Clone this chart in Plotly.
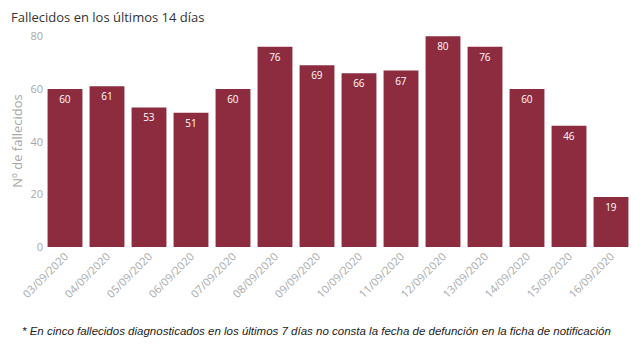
import plotly.graph_objects as go

dates = ["03/09/2020", "04/09/2020", "05/09/2020", "06/09/2020", "07/09/2020",
         "08/09/2020", "09/09/2020", "10/09/2020", "11/09/2020", "12/09/2020",
         "13/09/2020", "14/09/2020", "15/09/2020", "16/09/2020"]
deaths = [60, 61, 53, 51, 60, 76, 69, 66, 67, 80, 76, 60, 46, 19]
y_ticks = [0, 20, 40, 60, 80]

title_text = "Fallecidos en los últimos 14 días"
y_title = "Nº de fallecidos"
footnote = "* En cinco fallecidos diagnosticados en los últimos 7 días no consta la fecha de defunción en la ficha de notificación"

bar_color = "#8E2C3F"
font_fam = "Open Sans, Liberation Sans, sans-serif"

W, H = 632, 352
L, R, T, B = 36, 8, 27, 113
pw = W - L - R
ph = H - T - B

fig = go.Figure(go.Bar(
    x=dates, y=deaths, marker_color=bar_color, marker_line_width=0,
    text=deaths, textposition="inside", insidetextanchor="end",
    textfont=dict(color="white", size=10, family=font_fam),
    width=0.83,
))

fig.update_layout(
    width=W, height=H,
    margin=dict(l=L, r=R, t=T, b=B),
    paper_bgcolor="white", plot_bgcolor="white",
    showlegend=False,
    font=dict(family=font_fam),
    xaxis=dict(tickangle=-45, tickfont=dict(size=11, color="#A8A8A8"),
               showgrid=False, showline=False, ticks="", automargin=False),
    yaxis=dict(range=[0, 80.5], tickvals=y_ticks, showgrid=False, zeroline=False,
               tickfont=dict(size=11, color="#A8A8A8"), ticks="", automargin=False,
               title=dict(text=y_title, font=dict(size=13, color="#A8A8A8"), standoff=10)),
    annotations=[
        dict(text=title_text, x=(2 - L) / pw, y=(H - 9 - B) / ph,
             xref="paper", yref="paper", borderpad=0,
             showarrow=False, xanchor="left", yanchor="middle",
             font=dict(size=13, color="#333333", family=font_fam)),
        dict(text="<i>" + footnote + "</i>", x=(308 - L) / pw, y=(H - 323 - B) / ph,
             xref="paper", yref="paper",
             showarrow=False, xanchor="center", yanchor="middle",
             font=dict(size=11.5, color="#222222", family="Liberation Sans, sans-serif")),
    ],
)

fig.write_html("out.html")
